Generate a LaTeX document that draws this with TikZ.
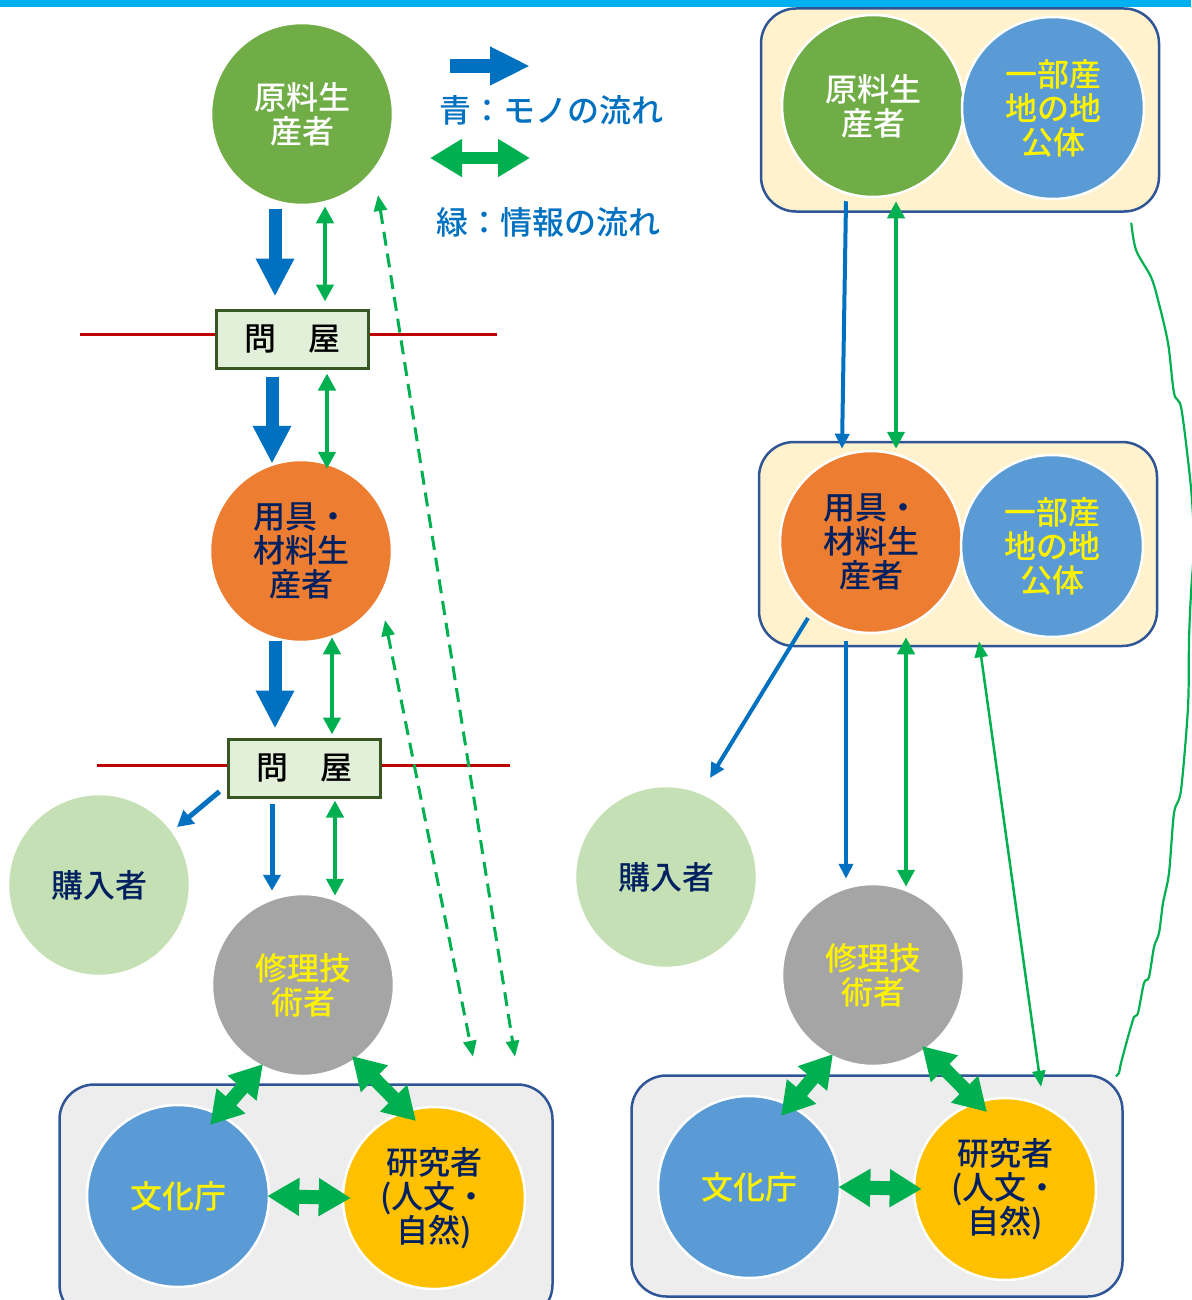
\documentclass[tikz,border=0pt]{standalone}
\usepackage{fontspec}
\setmainfont{Noto Sans CJK JP}[BoldFont={* Medium}]
\usetikzlibrary{arrows.meta,calc}
\definecolor{barcyan}{HTML}{00B0F0}
\definecolor{rawgreen}{HTML}{70AD47}
\definecolor{toolorange}{HTML}{ED7D31}
\definecolor{localblue}{HTML}{5B9BD5}
\definecolor{researchgold}{HTML}{FFC000}
\definecolor{repairgray}{HTML}{A5A5A5}
\definecolor{buyergreen}{HTML}{C5E0B4}
\definecolor{labgray}{HTML}{EDEDED}
\definecolor{cream}{HTML}{FFF2CC}
\definecolor{pairline}{HTML}{2F5597}
\definecolor{navy}{HTML}{002060}
\definecolor{monoblue}{HTML}{0070C0}
\definecolor{infogreen}{HTML}{00B050}
\definecolor{tonyared}{HTML}{C00000}
\definecolor{tonyafill}{HTML}{E2F0D9}
\definecolor{tonyaline}{HTML}{385723}

\begin{document}
\begin{tikzpicture}[x=1pt,y=-1pt]
\tikzstyle{place}=[circle, draw=white, line width=2.5pt, minimum size=182pt, inner sep=0pt, align=center, font=\fontsize{32}{34}\selectfont\bfseries]
\tikzstyle{tonya}=[draw=tonyaline, fill=tonyafill, line width=3pt, minimum width=152pt, minimum height=58pt, inner sep=0pt, font=\fontsize{32}{34}\selectfont\bfseries]
\tikzstyle{group}=[draw=pairline, line width=2.5pt, rounded corners=35pt, inner sep=0pt]
\tikzstyle{key}=[text=monoblue, font=\fontsize{32}{34}\selectfont\bfseries]
\tikzstyle{mono}=[monoblue, line width=13pt, -{Triangle[length=38pt,width=36pt]}]
\tikzstyle{monoline}=[monoblue, line width=5pt, -{Triangle[length=16pt,width=17pt]}]
\tikzstyle{monothin}=[monoblue, line width=4pt, -{Triangle[length=15pt,width=14pt]}]
\tikzstyle{info}=[infogreen, line width=4.5pt, {Triangle[length=17pt,width=17pt]}-{Triangle[length=17pt,width=17pt]}]
\tikzstyle{infoline}=[infogreen, line width=2.5pt, {Triangle[length=16pt,width=13pt]}-{Triangle[length=16pt,width=13pt]}]
\tikzstyle{infodash}=[infoline, line width=3pt, dash pattern=on 14pt off 8pt]
\tikzstyle{block}=[infogreen, line width=14pt, {Triangle[length=32pt,width=36pt]}-{Triangle[length=32pt,width=36pt]}]

\useasboundingbox (0,0) rectangle (1191,1300);
\fill[barcyan] (0,0) rectangle (1191,7);

% Groups
\node[group, fill=labgray, minimum width=493pt, minimum height=235pt] (lab_1) at (306,1202) {};
\node[group, fill=cream, minimum width=398pt, minimum height=203pt] (pair_1) at (960,110) {};
\node[group, fill=cream, minimum width=398pt, minimum height=204pt] (pair_2) at (958,544) {};
\node[group, fill=labgray, minimum width=491pt, minimum height=221pt] (lab_2) at (877,1186) {};

% Left
\node[place, fill=rawgreen, text=white] (raw_1) at (302,114) {原料生\\産者};
\node[tonya] (tonya_1) at (292,339) {問　屋};
\node[place, fill=toolorange, text=navy] (tool_1) at (301,551) {用具・\\材料生\\産者};
\node[tonya] (tonya_2) at (304,768) {問　屋};
\node[place, fill=buyergreen, text=navy] (buyer_1) at (99,885) {購入者};
\node[place, fill=repairgray, text=yellow] (repair_1) at (303,985) {修理技\\術者};
\node[place, fill=localblue, text=yellow] (agency_1) at (178,1196) {文化庁};
\node[place, fill=researchgold, text=navy] (research_1) at (434,1198) {研究者\\(人文・\\自然)};

% Right
\node[place, fill=rawgreen, text=white] (raw_2) at (873,106) {原料生\\産者};
\node[place, fill=localblue, text=yellow] (local_1) at (1053,108) {一部産\\地の地\\公体};
\node[place, fill=toolorange, text=navy] (tool_2) at (871,542) {用具・\\材料生\\産者};
\node[place, fill=localblue, text=yellow] (local_2) at (1052,546) {一部産\\地の地\\公体};
\node[place, fill=buyergreen, text=navy] (buyer_2) at (666,877) {購入者};
\node[place, fill=repairgray, text=yellow] (repair_2) at (873,975) {修理技\\術者};
\node[place, fill=localblue, text=yellow] (agency_2) at (749,1187) {文化庁};
\node[place, fill=researchgold, text=navy] (research_2) at (1005,1189) {研究者\\(人文・\\自然)};

% Legend
\coordinate (mono_a) at (450,66);
\coordinate (mono_b) at (530,66);
\draw[mono, line width=14pt, -{Triangle[length=40pt,width=36pt]}] (mono_a) -- (mono_b);
\node[key] (mono_key) at (551,110) {青：モノの流れ};
\coordinate (info_a) at (430,158);
\coordinate (info_b) at (530,158);
\draw[block, line width=12pt] (info_a) -- (info_b);
\node[key] (info_key) at (548,222) {緑：情報の流れ};

% Market lines
\coordinate (market_1) at (80,334);
\coordinate (market_2) at (497,334);
\coordinate (market_3) at (97,765);
\coordinate (market_4) at (510,765);
\draw[tonyared, line width=3pt] (market_1) -- ($(tonya_1.west)+(0,-5)$) ($(tonya_1.east)+(0,-5)$) -- (market_2);
\draw[tonyared, line width=3pt] (market_3) -- ($(tonya_2.west)+(0,-3)$) ($(tonya_2.east)+(0,-3)$) -- (market_4);

% Left flows
\draw[mono] ($(raw_1.south)+(-27,3)$) -- ($(tonya_1.north)+(-17,-12)$);
\draw[info] ($(raw_1.south)+(23,0)$) -- ($(tonya_1.north)+(33,-7)$);
\draw[mono] ($(tonya_1.south)+(-20,7)$) -- ($(tool_1.north)+(-29,5)$);
\draw[info] ($(tonya_1.south)+(35,4)$) -- ($(tool_1.north)+(26,10)$);
\draw[mono] ($(tool_1.south)+(-26,-2)$) -- ($(tonya_2.north)+(-29,-9)$);
\draw[info] ($(tool_1.south)+(31,-6)$) -- ($(tonya_2.north)+(28,-3)$);
\draw[monoline] ($(tonya_2.south west)+(-7,-7)$) -- ($(buyer_1.center)+(78,-58)$);
\draw[monoline] ($(tonya_2.south)+(-32,5)$) -- ($(repair_1.north)+(-31,-2)$);
\draw[info] ($(tonya_2.south)+(31,2)$) -- ($(repair_1.north)+(32,3)$);
\coordinate (far_1) at ($(research_1.north)+(81,-49)$);
\coordinate (near_1) at ($(research_1.north)+(39,-49)$);
\draw[infodash] ($(raw_1.center)+(76,81)$) -- (far_1);
\draw[infodash] ($(tool_1.center)+(84,69)$) -- (near_1);

% Right flows
\draw[monothin] ($(raw_2.south)+(-27,3)$) -- ($(tool_2.north)+(-29,-1)$);
\draw[info] ($(raw_2.south)+(23,3)$) -- ($(tool_2.north)+(25,-1)$);
\draw[monothin] ($(tool_2.center)+(-63,76)$) -- ($(buyer_2.center)+(44,-99)$);
\draw[monothin] ($(tool_2.south)+(-25,7)$) -- ($(repair_2.north)+(-27,-4)$);
\draw[info] ($(tool_2.south)+(35,3)$) -- ($(repair_2.north)+(33,4)$);
\draw[infoline] ($(pair_2.south)+(21,-6)$) -- ($(research_2.north)+(36,-10)$);
\coordinate (curve_top) at ($(pair_1.south east)+(-29,10)$);
\coordinate (curve_end) at ($(lab_2.north east)+(-8,2)$);
\draw[infogreen, line width=2.2pt] plot[smooth, tension=0.5] coordinates {(curve_top) (1136,250) (1151,277) (1158,300) (1168,343) (1174,393) (1181,407) (1188,460) (1192,500) (1194,545) (1191,593) (1189,640) (1188,707) (1181,790) (1174,813) (1169,873) (1163,903) (1159,933) (1154,947) (1149,977) (1144,983) (1138,1013) (1134,1017) (1128,1037) (1121,1063) (1119,1073) (curve_end)};

% Repair <-> lab
\foreach \i in {1,2}
{
\draw[block] ($(repair_\i.center)+(-40,79)$) -- ($(agency_\i.center)+(32,-71)$);
\draw[block] ($(repair_\i.center)+(49,71)$) -- ($(research_\i.center)+(-18,-77)$);
\draw[block] ($(agency_\i.east)+(-3,0)$) -- ($(research_\i.west)+(9,0)$);
}
\end{tikzpicture}
\end{document}
